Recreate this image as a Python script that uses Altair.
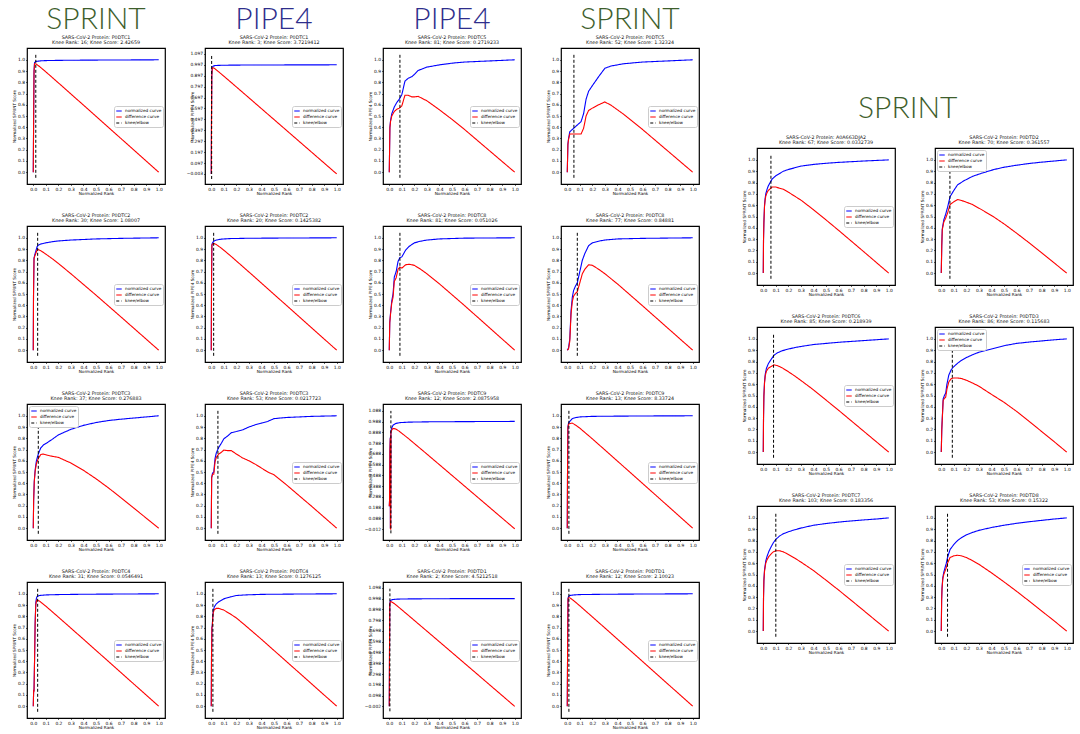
import altair as alt
import pandas as pd

SERIES = ["normalized curve", "difference curve", "knee/elbow"]
LINE_COLORS = ["#0000ff", "#ff0000", "#000000"]
LINE_DASHES = [[1, 0], [1, 0], [3, 2]]
X_TICKS = [0.0, 0.1, 0.2, 0.3, 0.4, 0.5, 0.6, 0.7, 0.8, 0.9, 1.0]
Y_TICKS = [0.0, 0.1, 0.2, 0.3, 0.4, 0.5, 0.6, 0.7, 0.8, 0.9, 1.0]

# ---------------- normalized curves (x = normalized rank, y = normalized score)
P01_X = [0, 0.003, 0.006, 0.01, 0.02, 0.05, 0.1, 0.2, 0.4, 0.6, 0.8, 1.0]
P01_Y = [0, 0.5, 0.9, 0.975, 0.985, 0.99, 0.993, 0.995, 0.997, 0.998, 0.999, 1.0]
P02_X = [0, 0.002, 0.004, 0.008, 0.015, 0.03, 0.06, 0.15, 0.3, 0.6, 1.0]
P02_Y = [-0.003, 0.55, 0.9, 0.975, 0.985, 0.99, 0.992, 0.994, 0.995, 0.996, 0.997]
P03_X = [0, 0.005, 0.01, 0.02, 0.04, 0.06, 0.08, 0.1, 0.125, 0.15, 0.18, 0.2, 0.23, 0.3, 0.4, 0.5, 0.6, 0.8, 1.0]
P03_Y = [0, 0.40, 0.46, 0.52, 0.58, 0.62, 0.65, 0.69, 0.81, 0.835, 0.85, 0.87, 0.905, 0.935, 0.955, 0.97, 0.98, 0.99, 1.0]
P04_X = [0, 0.005, 0.01, 0.02, 0.05, 0.08, 0.11, 0.13, 0.15, 0.17, 0.2, 0.25, 0.3, 0.35, 0.45, 0.6, 0.8, 1.0]
P04_Y = [0, 0.25, 0.30, 0.36, 0.39, 0.42, 0.45, 0.52, 0.65, 0.72, 0.77, 0.85, 0.925, 0.945, 0.965, 0.98, 0.99, 1.0]
P05_X = [0, 0.002, 0.006, 0.012, 0.02, 0.03, 0.04, 0.06, 0.1, 0.15, 0.2, 0.3, 0.5, 0.7, 1.0]
P05_Y = [0, 0.5, 0.82, 0.85, 0.88, 0.92, 0.935, 0.945, 0.955, 0.965, 0.972, 0.98, 0.99, 0.995, 1.0]
P06_X = [0, 0.002, 0.005, 0.01, 0.02, 0.04, 0.08, 0.15, 0.3, 0.6, 1.0]
P06_Y = [0, 0.6, 0.94, 0.955, 0.97, 0.98, 0.988, 0.993, 0.996, 0.998, 1.0]
P07_X = [0, 0.004, 0.01, 0.02, 0.03, 0.04, 0.055, 0.07, 0.085, 0.1, 0.13, 0.16, 0.2, 0.25, 0.3, 0.4, 0.6, 1.0]
P07_Y = [0, 0.25, 0.33, 0.44, 0.5, 0.65, 0.70, 0.79, 0.825, 0.83, 0.89, 0.925, 0.955, 0.97, 0.98, 0.99, 0.997, 1.0]
P08_X = [0, 0.01, 0.02, 0.03, 0.04, 0.05, 0.065, 0.08, 0.1, 0.12, 0.14, 0.17, 0.2, 0.25, 0.3, 0.4, 0.6, 1.0]
P08_Y = [0, 0.02, 0.1, 0.35, 0.47, 0.53, 0.57, 0.6, 0.7, 0.8, 0.86, 0.93, 0.955, 0.97, 0.98, 0.99, 0.995, 1.0]
P09_X = [0, 0.003, 0.008, 0.015, 0.025, 0.04, 0.06, 0.08, 0.11, 0.15, 0.2, 0.3, 0.4, 0.5, 0.6, 0.7, 0.8, 0.9, 1.0]
P09_Y = [0, 0.25, 0.42, 0.52, 0.6, 0.66, 0.715, 0.74, 0.76, 0.79, 0.83, 0.88, 0.915, 0.94, 0.958, 0.97, 0.98, 0.99, 1.0]
P10_X = [0, 0.003, 0.01, 0.02, 0.03, 0.04, 0.06, 0.08, 0.1, 0.13, 0.16, 0.2, 0.25, 0.3, 0.35, 0.4, 0.45, 0.5, 0.6, 0.8, 1.0]
P10_Y = [0, 0.45, 0.49, 0.5, 0.62, 0.67, 0.72, 0.755, 0.795, 0.82, 0.85, 0.86, 0.875, 0.9, 0.92, 0.935, 0.95, 0.975, 0.985, 0.995, 1.0]
P11_X = [0, 0.002, 0.005, 0.008, 0.009, 0.011, 0.013, 0.02, 0.03, 0.05, 0.08, 0.15, 0.3, 0.6, 1.0]
P11_Y = [0.2, 0.25, 0.72, 0.84, 0.0, 0.0, 0.9, 0.93, 0.955, 0.97, 0.978, 0.983, 0.986, 0.988, 0.99]
P12_X = [0, 0.002, 0.005, 0.01, 0.02, 0.04, 0.07, 0.1, 0.2, 0.4, 0.7, 1.0]
P12_Y = [0, 0.5, 0.9, 0.935, 0.95, 0.975, 0.985, 0.99, 0.995, 0.997, 0.999, 1.0]
P13_X = [0, 0.003, 0.006, 0.01, 0.015, 0.02, 0.025, 0.03, 0.05, 0.1, 0.2, 0.4, 0.7, 1.0]
P13_Y = [0, 0.14, 0.14, 0.4, 0.75, 0.92, 0.96, 0.975, 0.985, 0.99, 0.993, 0.996, 0.998, 1.0]
P14_X = [0, 0.002, 0.005, 0.008, 0.012, 0.016, 0.025, 0.04, 0.06, 0.1, 0.15, 0.2, 0.27, 0.4, 0.7, 1.0]
P14_Y = [0, 0.45, 0.7, 0.72, 0.8, 0.85, 0.885, 0.91, 0.93, 0.955, 0.972, 0.985, 0.99, 0.995, 0.998, 1.0]
P15_X = [0, 0.002, 0.004, 0.008, 0.015, 0.03, 0.06, 0.15, 0.4, 0.7, 1.0]
P15_Y = [-0.002, 0.55, 0.95, 0.975, 0.985, 0.99, 0.993, 0.995, 0.997, 0.998, 0.998]
P16_X = [0, 0.003, 0.006, 0.01, 0.02, 0.05, 0.1, 0.3, 0.6, 1.0]
P16_Y = [0, 0.6, 0.96, 0.975, 0.985, 0.99, 0.993, 0.996, 0.998, 1.0]
P17_X = [0, 0.002, 0.005, 0.01, 0.015, 0.02, 0.03, 0.04, 0.055, 0.07, 0.1, 0.13, 0.16, 0.2, 0.25, 0.3, 0.4, 0.5, 0.6, 0.8, 1.0]
P17_Y = [0, 0.3, 0.45, 0.6, 0.66, 0.7, 0.74, 0.77, 0.80, 0.83, 0.86, 0.88, 0.9, 0.915, 0.93, 0.945, 0.96, 0.97, 0.978, 0.99, 1.0]
P18_X = [0, 0.004, 0.008, 0.02, 0.035, 0.05, 0.07, 0.1, 0.13, 0.18, 0.25, 0.33, 0.42, 0.5, 0.6, 0.7, 0.8, 0.9, 1.0]
P18_Y = [0, 0.25, 0.39, 0.47, 0.52, 0.58, 0.675, 0.73, 0.78, 0.815, 0.855, 0.885, 0.915, 0.935, 0.953, 0.968, 0.98, 0.99, 1.0]
P19_X = [0, 0.002, 0.005, 0.01, 0.016, 0.025, 0.04, 0.06, 0.085, 0.11, 0.15, 0.2, 0.25, 0.3, 0.4, 0.5, 0.6, 0.8, 1.0]
P19_Y = [0, 0.3, 0.5, 0.62, 0.69, 0.74, 0.78, 0.815, 0.855, 0.875, 0.895, 0.91, 0.923, 0.933, 0.95, 0.96, 0.97, 0.985, 1.0]
P20_X = [0, 0.004, 0.008, 0.015, 0.025, 0.035, 0.045, 0.06, 0.08, 0.1, 0.13, 0.16, 0.2, 0.25, 0.3, 0.4, 0.5, 0.6, 0.7, 0.8, 0.9, 1.0]
P20_Y = [0, 0.2, 0.3, 0.47, 0.5, 0.52, 0.6, 0.68, 0.73, 0.755, 0.785, 0.81, 0.835, 0.86, 0.882, 0.91, 0.94, 0.96, 0.972, 0.982, 0.992, 1.0]
P21_X = [0, 0.002, 0.005, 0.01, 0.02, 0.03, 0.045, 0.065, 0.08, 0.1, 0.13, 0.16, 0.2, 0.25, 0.3, 0.4, 0.5, 0.6, 0.7, 0.8, 0.9, 1.0]
P21_Y = [0, 0.3, 0.45, 0.54, 0.62, 0.66, 0.705, 0.75, 0.78, 0.81, 0.84, 0.86, 0.877, 0.895, 0.91, 0.935, 0.95, 0.963, 0.973, 0.982, 0.99, 1.0]
P22_X = [0, 0.003, 0.006, 0.012, 0.02, 0.03, 0.04, 0.05, 0.07, 0.1, 0.13, 0.16, 0.2, 0.25, 0.3, 0.4, 0.5, 0.6, 0.7, 0.8, 0.9, 1.0]
P22_Y = [0, 0.28, 0.38, 0.47, 0.52, 0.56, 0.6, 0.65, 0.72, 0.765, 0.8, 0.825, 0.85, 0.872, 0.89, 0.915, 0.935, 0.952, 0.966, 0.978, 0.99, 1.0]

# odd PIPE4 axes: (y domain, first tick, knee line bottom, knee line top)
ODD_C1 = ([-0.095, 1.151], -0.003, -0.049, 1.083)
ODD_C9 = ([-0.114, 1.152], -0.012, -0.052, 1.088)
ODD_D1 = ([-0.11, 1.152], -0.002, -0.048, 1.09)

# method, protein, knee rank, knee score, xs, ys, knee x, legend place, odd axis
LEFT = [
    ("SPRINT", "P0DTC1", 16, "2.42659", P01_X, P01_Y, 0.02, "right", None),
    ("PIPE4", "P0DTC1", 3, "3.7219412", P02_X, P02_Y, 0.003, "right", ODD_C1),
    ("PIPE4", "P0DTC5", 81, "0.2719233", P03_X, P03_Y, 0.085, "right", None),
    ("SPRINT", "P0DTC5", 52, "1.32324", P04_X, P04_Y, 0.053, "right", None),
    ("SPRINT", "P0DTC2", 30, "1.08007", P05_X, P05_Y, 0.035, "right", None),
    ("PIPE4", "P0DTC2", 20, "0.1425382", P06_X, P06_Y, 0.019, "right", None),
    ("PIPE4", "P0DTC8", 81, "0.051026", P07_X, P07_Y, 0.085, "right", None),
    ("SPRINT", "P0DTC8", 77, "0.84881", P08_X, P08_Y, 0.08, "right", None),
    ("SPRINT", "P0DTC3", 37, "0.276883", P09_X, P09_Y, 0.04, "left", None),
    ("PIPE4", "P0DTC3", 53, "0.0217723", P10_X, P10_Y, 0.053, "right", None),
    ("PIPE4", "P0DTC9", 12, "2.0875958", P11_X, P11_Y, 0.013, "right", ODD_C9),
    ("SPRINT", "P0DTC9", 13, "8.33724", P12_X, P12_Y, 0.013, "right", None),
    ("SPRINT", "P0DTC4", 31, "0.0546491", P13_X, P13_Y, 0.035, "right", None),
    ("PIPE4", "P0DTC4", 13, "0.1276125", P14_X, P14_Y, 0.013, "right", None),
    ("PIPE4", "P0DTD1", 2, "4.5212518", P15_X, P15_Y, 0.005, "right", ODD_D1),
    ("SPRINT", "P0DTD1", 12, "2.10023", P16_X, P16_Y, 0.013, "right", None),
]
RIGHT = [
    ("SPRINT", "A0A663DJA2", 67, "0.0332739", P17_X, P17_Y, 0.061, "right", None),
    ("SPRINT", "P0DTD2", 70, "0.361557", P18_X, P18_Y, 0.069, "left", None),
    ("SPRINT", "P0DTC6", 85, "0.218939", P19_X, P19_Y, 0.082, "right", None),
    ("SPRINT", "P0DTD3", 86, "0.115683", P20_X, P20_Y, 0.088, "left", None),
    ("SPRINT", "P0DTC7", 103, "0.183356", P21_X, P21_Y, 0.1, "right", None),
    ("SPRINT", "P0DTD8", 53, "0.15322", P22_X, P22_Y, 0.05, "right", None),
]

METHOD_COLORS = {"SPRINT": "#3e5e2c", "PIPE4": "#2e2e8c"}
SMALL = "DejaVu Sans"
BIG = '"Lato Light", "Open Sans Light", Lato, "Open Sans", sans-serif'


def make_panel(spec, w, h, top=False):
    method, prot, rank, score, xs, ys, knee, legpos, odd = spec
    df = pd.DataFrame({"x": xs, "y": ys})
    if odd is None:
        ydom, yvals, yfmt, klo, khi = [-0.105, 1.105], Y_TICKS, ".1f", -0.05, 1.05
    else:
        ydom, base, klo, khi = odd
        yvals = [round(base + i / 10, 3) for i in range(12)]
        yfmt = ".3f"
    lx, ly = (87, 58) if legpos == "right" else (2, 2)
    leg = alt.Legend(orient="none", legendX=lx, legendY=ly, title=None,
                     symbolType="stroke", symbolSize=30, symbolStrokeWidth=1.1,
                     labelFontSize=4.2, labelFont=SMALL, labelColor="#000",
                     padding=1.5, rowPadding=0, labelOffset=2.5,
                     fillColor="white", strokeColor="#cccccc", cornerRadius=2)
    color = alt.Color("series:N", scale=alt.Scale(domain=SERIES, range=LINE_COLORS), legend=leg)
    dash = alt.StrokeDash("series:N", scale=alt.Scale(domain=SERIES, range=LINE_DASHES), legend=leg)
    xscale = alt.Scale(domain=[-0.05, 1.05], nice=False, zero=False)
    xaxis = alt.Axis(values=X_TICKS, format=".1f", title="Normalized Rank",
                     labelPadding=1.5, titlePadding=1.2)
    yscale = alt.Scale(domain=ydom, nice=False, zero=False)
    yaxis = alt.Axis(values=yvals, format=yfmt, title=f"Normalized {method} Score",
                     minExtent=9.5, maxExtent=9.5, titlePadding=1, labelPadding=1)
    base_c = alt.Chart(df)
    blue = base_c.transform_calculate(series="'normalized curve'").mark_line(strokeWidth=1.1).encode(
        x=alt.X("x:Q", scale=xscale, axis=xaxis),
        y=alt.Y("y:Q", scale=yscale, axis=yaxis),
        color=color, strokeDash=dash)
    red = base_c.transform_calculate(series="'difference curve'", d="datum.y - datum.x").mark_line(strokeWidth=1.1).encode(
        x=alt.X("x:Q", scale=xscale, axis=xaxis),
        y=alt.Y("d:Q", scale=yscale, axis=yaxis),
        color=color, strokeDash=dash)
    kdf = pd.DataFrame({"k": [knee], "lo": [klo], "hi": [khi], "series": ["knee/elbow"]})
    kline = alt.Chart(kdf).mark_rule(strokeWidth=1).encode(
        x=alt.X("k:Q", scale=xscale, axis=xaxis),
        y=alt.Y("lo:Q", scale=yscale, axis=yaxis),
        y2="hi:Q", color=color, strokeDash=dash)
    lines = [f"SARS-CoV-2 Protein: {prot}", f"Knee Rank: {rank}; Knee Score: {score}"]
    if top:
        title = alt.TitleParams(text=method, subtitle=lines, font=BIG, fontSize=30, fontWeight=300,
                                color=METHOD_COLORS[method], subtitleFont=SMALL, subtitleFontSize=4.8,
                                subtitleColor="#111", subtitleLineHeight=5.5, subtitlePadding=0,
                                offset=3, anchor="middle", frame="group")
    else:
        title = alt.TitleParams(text=lines, font=SMALL, fontSize=4.8, fontWeight="normal",
                                color="#111", lineHeight=5.5, offset=3, anchor="middle", frame="group")
    return alt.layer(blue, red, kline).properties(width=w, height=h, title=title)


def indep(c):
    return c.resolve_scale(color="independent", strokeDash="independent").resolve_legend(
        color="independent", strokeDash="independent")


SV = 15
left_rows = []
for r in range(4):
    ps = [make_panel(LEFT[r * 4 + c], 138, 136, top=(r == 0)) for c in range(4)]
    left_rows.append(indep(alt.hconcat(*ps, spacing=40, bounds="flush")))
left = indep(alt.vconcat(*left_rows, spacing=SV))

right_rows = []
for r in range(3):
    ps = [make_panel(RIGHT[r * 2 + c], 138, 137) for c in range(2)]
    if r == 0:
        row = alt.hconcat(*ps, spacing=40, bounds="flush",
                          title=alt.TitleParams(text="SPRINT", font=BIG, fontSize=30, fontWeight=300,
                                                color=METHOD_COLORS["SPRINT"], anchor="middle", offset=10))
    else:
        row = alt.hconcat(*ps, spacing=40, bounds="flush")
    right_rows.append(indep(row))

spacer = alt.Chart(pd.DataFrame({"s": [0]})).mark_point(opacity=0).properties(
    width=10, height=30, view=alt.ViewBackground(stroke="transparent"))
right = indep(alt.vconcat(spacer, *right_rows, spacing=SV))

chart = indep(alt.hconcat(left, right, spacing=41)).properties(
    padding={"left": 11, "top": 4, "right": 2, "bottom": 2},
    background="white",
).configure_view(stroke="black", strokeWidth=1.2).configure_axis(
    labelFont=SMALL, titleFont=SMALL, labelFontSize=4.4, titleFontSize=4.2,
    titleFontWeight="normal", tickSize=1.5, tickColor="black", tickWidth=0.6,
    labelColor="#000", titleColor="#000", domain=False, grid=False,
)

chart.save("out.html", embed_options={"renderer": "svg", "actions": False})
